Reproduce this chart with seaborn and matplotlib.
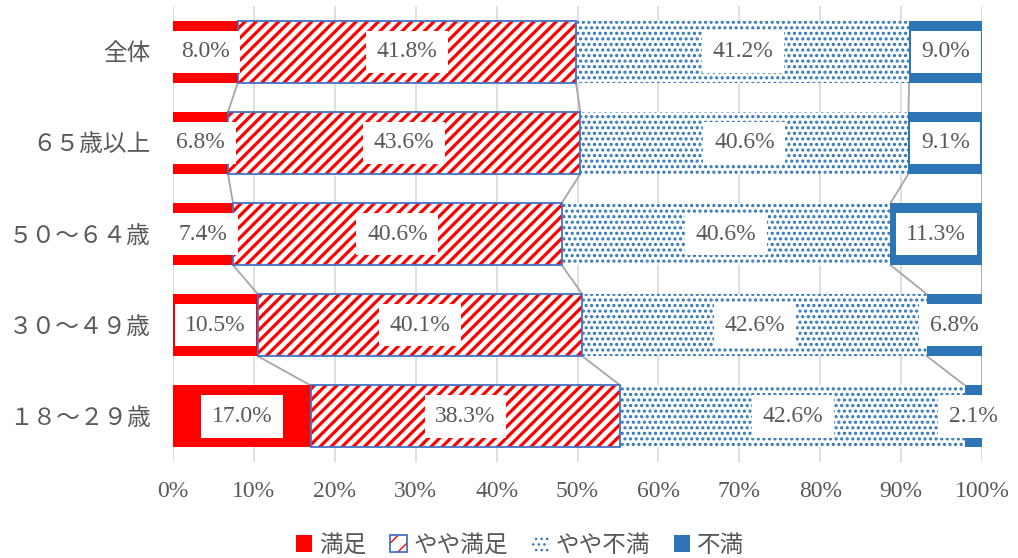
import numpy as np
import pandas as pd
import seaborn as sns
import matplotlib.pyplot as plt
from matplotlib.patches import Patch

# dados do gráfico (em %)
categorias = ["全体", "６５歳以上", "５０～６４歳", "３０～４９歳", "１８～２９歳"]
series = ["満足", "やや満足", "やや不満", "不満"]
manzoku = [8.0, 6.8, 7.4, 10.5, 17.0]
yaya_manzoku = [41.8, 43.6, 40.6, 40.1, 38.3]
yaya_fuman = [41.2, 40.6, 40.6, 42.6, 42.6]
fuman = [9.0, 9.1, 11.3, 6.8, 2.1]
marcas_x = [0.0, 0.1, 0.2, 0.3, 0.4, 0.5, 0.6, 0.7, 0.8, 0.9, 1.0]

AZUL = "#2E75B6"
VERMELHO = "#FF0000"
BORDA = "#4472C4"
CINZA_TEXTO = "#595959"
ALTURA = 0.68

sns.set_theme(style="white")
plt.rcParams["font.family"] = ["Liberation Serif", "Noto Sans CJK JP"]

tabela = pd.DataFrame({"categoria": categorias, "満足": manzoku, "やや満足": yaya_manzoku,
                       "やや不満": yaya_fuman, "不満": fuman})
total = tabela[series].sum(axis=1)
fracoes = tabela[series].div(total, axis=0)  # gráfico 100% empilhado
acumulado = fracoes.cumsum(axis=1)
esquerda = acumulado - fracoes

fig, ax = plt.subplots(figsize=(10.18, 5.58), dpi=100)
fig.subplots_adjust(left=0.170, right=0.9646, top=0.989, bottom=0.172)

estilos = {
    "満足": dict(color=VERMELHO, edgecolor="none", hatch=None, lw=1.0),
    "やや満足": dict(color="white", edgecolor=VERMELHO, hatch="///", lw=2.3),
    "やや不満": dict(color="white", edgecolor=AZUL, hatch="...", lw=1.5),
    "不満": dict(color=AZUL, edgecolor="none", hatch=None, lw=1.0),
}

for s in series:
    est = estilos[s]
    n = len(ax.patches)
    with plt.rc_context({"hatch.linewidth": est["lw"]}):
        sns.barplot(x=fracoes[s].values, y=tabela["categoria"], orient="h", color=est["color"],
                    saturation=1, edgecolor=est["edgecolor"], linewidth=0, hatch=est["hatch"],
                    width=ALTURA, errorbar=None, ax=ax, zorder=2)
    for p, l in zip(ax.patches[n:], esquerda[s]):
        p.set_x(l)
        if hasattr(p, "set_hatch_linewidth"):
            p.set_hatch_linewidth(est["lw"])

# borda azul da série やや満足
n = len(ax.patches)
sns.barplot(x=fracoes["やや満足"].values, y=tabela["categoria"], orient="h", fill=False,
            color=BORDA, saturation=1, linewidth=1.3, width=ALTURA, errorbar=None, ax=ax, zorder=3)
for p, l in zip(ax.patches[n:], esquerda["やや満足"]):
    p.set_x(l)

# linhas de série entre as barras
for s in series:
    for i in range(len(categorias) - 1):
        ax.plot([acumulado[s][i], acumulado[s][i + 1]], [i + ALTURA / 2, i + 1 - ALTURA / 2],
                color="#A6A6A6", lw=1.3, zorder=1)

# rótulos de dados
for s in series:
    for i in range(len(categorias)):
        cx = esquerda[s][i] + fracoes[s][i] / 2
        ax.text(cx, i, f"{tabela[s][i]:.1f}%", ha="center", va="center", fontsize=17,
                color=CINZA_TEXTO, zorder=6, clip_on=False,
                bbox=dict(boxstyle="square,pad=0.45", fc="white", ec="none"))

ax.set_xlim(0, 1)
ax.set_ylim(len(categorias) - 0.5, -0.5)
ax.set_xticks(marcas_x)
ax.set_xticklabels([f"{int(round(t * 100))}%" for t in marcas_x])
ax.xaxis.grid(True, color="#D9D9D9", lw=1.2)
ax.set_axisbelow(True)
ax.tick_params(axis="both", length=0, labelsize=17, labelcolor=CINZA_TEXTO)
ax.tick_params(axis="y", pad=16)
ax.tick_params(axis="x", pad=14)
ax.set_xlabel("")
ax.set_ylabel("")
sns.despine(ax=ax, left=True, bottom=True)

with plt.rc_context({"hatch.linewidth": 2.0}):
    h_manzoku = Patch(facecolor=VERMELHO, edgecolor="none")
    h_yaya_m = (Patch(facecolor="white", edgecolor=VERMELHO, hatch="//", lw=0),
                Patch(facecolor="none", edgecolor=BORDA, lw=1.3))
with plt.rc_context({"hatch.linewidth": 1.0}):
    h_yaya_f = Patch(facecolor="white", edgecolor=AZUL, hatch="...", lw=0)
    h_fuman = Patch(facecolor=AZUL, edgecolor="none")

fig.legend([h_manzoku, h_yaya_m, h_yaya_f, h_fuman], series, loc="center",
           bbox_to_anchor=(0.511, 1 - 546 / 558), ncol=4, frameon=False, fontsize=17,
           handlelength=0.7, handleheight=0.7, columnspacing=1.0, handletextpad=0.3,
           labelcolor=CINZA_TEXTO)

plt.savefig("out.png", dpi=100)
